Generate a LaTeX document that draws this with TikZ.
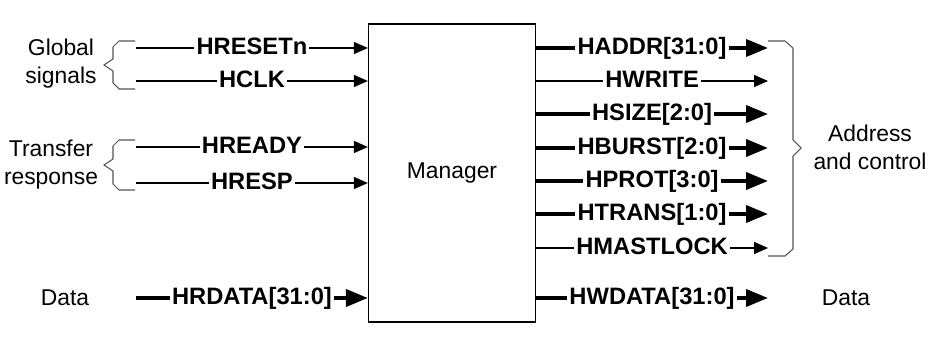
\documentclass[tikz,border=0pt]{standalone}
\usepackage{fontspec}
\setmainfont{Liberation Sans}
\usetikzlibrary{arrows.meta, positioning}
\definecolor{brace}{HTML}{555555}

\begin{document}
\begin{tikzpicture}[
  x=0.02cm, y=-0.02cm,
  mgrbox/.style={draw, line width=0.7pt, minimum width=3.34cm, minimum height=5.96cm,
                 font=\fontsize{13}{16}\selectfont},
  lab/.style={fill=white, inner xsep=1.2pt, inner ysep=1pt, text height=0.72em, text depth=0pt,
              font=\fontsize{13.5}{16}\selectfont\bfseries},
  grp/.style={align=center, font=\fontsize{13}{16}\selectfont},
  ctl/.style={line width=0.7pt, -{Triangle[length=0.28cm, width=0.24cm]}},
  bus/.style={line width=2.1pt, -{Triangle[length=0.44cm, width=0.34cm]}},
  brc/.style={draw=brace, line width=0.6pt}
]
\useasboundingbox (0,0) rectangle (936,354);

\node[mgrbox] (mgr) at (452,173) {Manager};

% inputs
\coordinate (rst)  at (136,48);
\coordinate (clk)  at (136,81);
\coordinate (rdy)  at (136,147);
\coordinate (resp) at (136,183);
\coordinate (rdat) at (136,298);
\draw[ctl] (rst)  -- node[lab] (lrst)  {HRESETn}      (rst  -| mgr.west);
\draw[ctl] (clk)  -- node[lab] (lclk)  {HCLK}         (clk  -| mgr.west);
\draw[ctl] (rdy)  -- node[lab] (lrdy)  {HREADY}       (rdy  -| mgr.west);
\draw[ctl] (resp) -- node[lab] (lresp) {HRESP}        (resp -| mgr.west);
\draw[bus] (rdat) -- node[lab] (lrdat) {HRDATA[31:0]} (rdat -| mgr.west);

% outputs
\coordinate (addr)  at (768,48);
\coordinate (wr)    at (768,81);
\coordinate (size)  at (768,114);
\coordinate (burst) at (768,148);
\coordinate (prot)  at (768,181);
\coordinate (trans) at (768,214);
\coordinate (lock)  at (768,248);
\coordinate (wdat)  at (768,298);
\draw[bus] (addr  -| mgr.east) -- node[lab] (laddr)  {HADDR[31:0]}  (addr);
\draw[ctl] (wr    -| mgr.east) -- node[lab] (lwr)    {HWRITE}       (wr);
\draw[bus] (size  -| mgr.east) -- node[lab] (lsize)  {HSIZE[2:0]}   (size);
\draw[bus] (burst -| mgr.east) -- node[lab] (lburst) {HBURST[2:0]}  (burst);
\draw[bus] (prot  -| mgr.east) -- node[lab] (lprot)  {HPROT[3:0]}   (prot);
\draw[bus] (trans -| mgr.east) -- node[lab] (ltrans) {HTRANS[1:0]}  (trans);
\draw[ctl] (lock  -| mgr.east) -- node[lab] (llock)  {HMASTLOCK}    (lock);
\draw[bus] (wdat  -| mgr.east) -- node[lab] (lwdat)  {HWDATA[31:0]} (wdat);

% braces
\draw[brc] (135,41) -- (119,41) -- (113,47) -- (113,59) -- (104,65) -- (113,71) -- (113,83) -- (119,89) -- (135,89);
\draw[brc] (135,140) -- (119,140) -- (113,146) -- (113,159) -- (104,165) -- (113,171) -- (113,184) -- (119,190) -- (135,190);
\draw[brc] (768,41) -- (785,41) -- (793,48) -- (793,140) -- (801,148) -- (793,156) -- (793,249) -- (785,256) -- (768,256);

% group names
\node[grp] (gsig)  at (61,64)   {Global\\signals};
\node[grp] (gresp) at (51,165)  {Transfer\\response};
\node[grp] (gdin)  at (65,298)  {Data};
\node[grp] (gctl)  at (870,147) {Address\\and control};
\node[grp] (gdout) at (846,298) {Data};
\end{tikzpicture}
\end{document}
